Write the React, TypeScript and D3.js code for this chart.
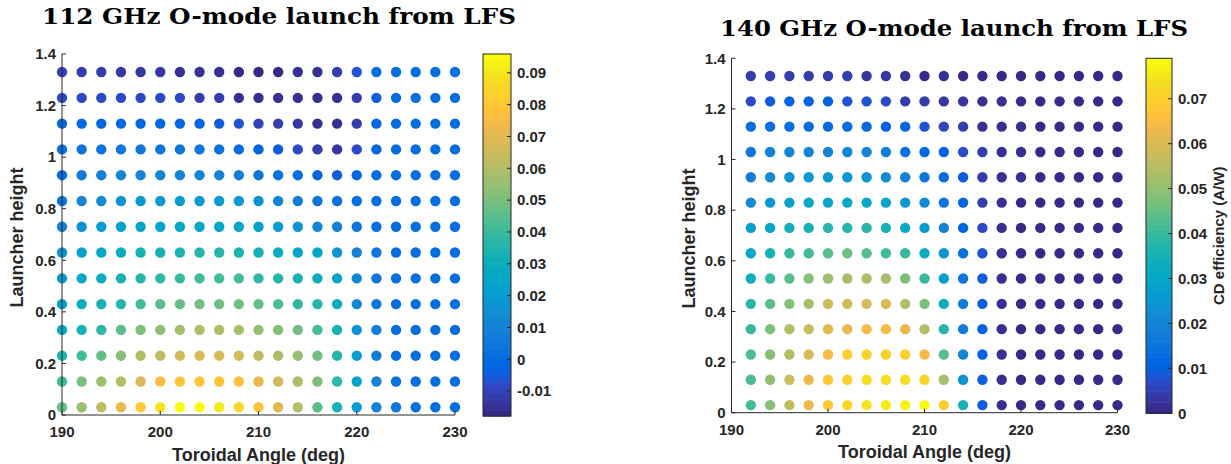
import React from "react";
import * as d3 from "d3";

// ---------- data ----------
const heights = [1.33, 1.23, 1.13, 1.03, 0.93, 0.83, 0.73, 0.63, 0.53, 0.43, 0.33, 0.23, 0.13, 0.03];
const angles112 = [190, 192, 194, 196, 198, 200, 202, 204, 206, 208, 210, 212, 214, 216, 218, 220, 222, 224, 226, 228, 230];
const angles140 = [192, 194, 196, 198, 200, 202, 204, 206, 208, 210, 212, 214, 216, 218, 220, 222, 224, 226, 228, 230];

// CD efficiency (A/W), rows follow `heights`, columns follow angles
const cd112 = [
  [-0.0098, -0.0109, -0.012, -0.0126, -0.0137, -0.0137, -0.0149, -0.016, -0.016, -0.0166, -0.0171, -0.0171, -0.0154, -0.0154, -0.012, -0.0064, 0, 0, 0, 0, 0],
  [-0.0075, -0.0075, -0.0075, -0.0075, -0.0075, -0.008, -0.0086, -0.0109, -0.012, -0.0143, -0.0154, -0.016, -0.0154, -0.0154, -0.0154, -0.012, -0.0041, 0, 0, 0, 0],
  [-0.0018, -0.0007, -0.0007, -0.0007, -0.0007, -0.0018, -0.0018, -0.003, -0.0041, -0.0064, -0.0098, -0.012, -0.0132, -0.0149, -0.016, -0.012, -0.0018, 0, 0, 0, 0],
  [0.0027, 0.005, 0.005, 0.005, 0.005, 0.005, 0.005, 0.0039, 0.0027, 0, -0.0018, -0.0041, -0.0086, -0.012, -0.0132, -0.0075, -0.0007, 0, 0, 0, 0],
  [0.0016, 0.0061, 0.0095, 0.0107, 0.0118, 0.0118, 0.0118, 0.0118, 0.0107, 0.0084, 0.005, 0.0027, 0, -0.003, -0.0041, -0.0007, 0, 0, 0, 0, 0],
  [0.005, 0.0118, 0.0141, 0.0175, 0.0186, 0.0198, 0.0198, 0.0198, 0.0198, 0.0186, 0.0164, 0.0118, 0.0073, 0.0039, 0.0027, 0.0016, 0, 0, 0, 0, 0],
  [0.0095, 0.0164, 0.0198, 0.022, 0.0232, 0.0243, 0.0254, 0.0254, 0.0254, 0.0243, 0.022, 0.0198, 0.0164, 0.0118, 0.0095, 0.005, 0.0016, 0, 0, 0, 0],
  [0.0164, 0.022, 0.0254, 0.0288, 0.0322, 0.0334, 0.0345, 0.0356, 0.0356, 0.0345, 0.0322, 0.03, 0.0266, 0.0232, 0.0175, 0.0095, 0.0039, 0.0016, 0, 0, 0],
  [0.0198, 0.0254, 0.03, 0.0334, 0.0368, 0.039, 0.0402, 0.0425, 0.0425, 0.0413, 0.039, 0.0368, 0.0334, 0.03, 0.0232, 0.0118, 0.005, 0.0016, 0, 0, 0],
  [0.022, 0.0288, 0.0334, 0.0368, 0.0413, 0.0447, 0.047, 0.0493, 0.0493, 0.0493, 0.047, 0.0436, 0.039, 0.0356, 0.0288, 0.0141, 0.005, 0.0016, 0, 0, 0],
  [0.0277, 0.0334, 0.039, 0.0447, 0.0504, 0.0538, 0.0572, 0.0595, 0.0595, 0.0572, 0.055, 0.0527, 0.0481, 0.0425, 0.0334, 0.0164, 0.0073, 0.0016, 0, 0, 0],
  [0.0345, 0.0413, 0.047, 0.0527, 0.0595, 0.0629, 0.0663, 0.0686, 0.0686, 0.0663, 0.0629, 0.0595, 0.0538, 0.0481, 0.0368, 0.0209, 0.0084, 0.0016, 0, 0, 0],
  [0.0413, 0.0504, 0.0561, 0.0618, 0.0686, 0.0765, 0.0799, 0.0799, 0.0788, 0.0776, 0.072, 0.0663, 0.0595, 0.0504, 0.0379, 0.0232, 0.0107, 0.0027, 0.0016, 0, 0],
  [0.047, 0.0561, 0.0629, 0.072, 0.081, 0.0901, 0.0947, 0.0947, 0.0913, 0.0867, 0.0799, 0.0708, 0.0606, 0.0447, 0.0322, 0.0198, 0.0095, 0.0039, 0.0027, 0.0016, 0.0016],
];

const cd140 = [
  [0.0047, 0.004, 0.0047, 0.0047, 0.0047, 0.004, 0.0032, 0.0032, 0.0024, 0.0008, 0.0016, 0.0008, 0.0008, 0.0008, 0.0008, 0.0008, 0.0008, 0.0008, 0.0008, 0.0008],
  [0.0063, 0.0087, 0.0103, 0.0103, 0.0103, 0.0079, 0.0079, 0.0063, 0.0047, 0.004, 0.0032, 0.0032, 0.0016, 0.0016, 0.0008, 0.0008, 0.0008, 0.0008, 0.0008, 0.0008],
  [0.0126, 0.0134, 0.0134, 0.0134, 0.0134, 0.0126, 0.0119, 0.0111, 0.0103, 0.0079, 0.0055, 0.004, 0.0024, 0.0016, 0.0016, 0.0008, 0.0008, 0.0008, 0.0008, 0.0008],
  [0.0158, 0.019, 0.0198, 0.0205, 0.0205, 0.0205, 0.0198, 0.0174, 0.0142, 0.0119, 0.0111, 0.0071, 0.004, 0.0024, 0.0016, 0.0008, 0.0008, 0.0008, 0.0008, 0.0008],
  [0.0174, 0.0213, 0.0237, 0.0253, 0.0261, 0.0253, 0.0245, 0.0221, 0.019, 0.0158, 0.0126, 0.0095, 0.004, 0.0024, 0.0016, 0.0008, 0.0008, 0.0008, 0.0008, 0.0008],
  [0.0221, 0.0253, 0.0284, 0.03, 0.0308, 0.0308, 0.03, 0.0284, 0.0253, 0.0213, 0.0158, 0.0119, 0.0047, 0.0024, 0.0008, 0.0008, 0.0008, 0.0008, 0.0008, 0.0008],
  [0.0269, 0.0308, 0.034, 0.0356, 0.0371, 0.0379, 0.0371, 0.0356, 0.0316, 0.0261, 0.019, 0.0119, 0.0063, 0.0024, 0.0008, 0.0008, 0.0008, 0.0008, 0.0008, 0.0008],
  [0.03, 0.0356, 0.0395, 0.0419, 0.0442, 0.0458, 0.0442, 0.0419, 0.0395, 0.0332, 0.0237, 0.0142, 0.0079, 0.0024, 0.0008, 0.0008, 0.0008, 0.0008, 0.0008, 0.0008],
  [0.0332, 0.0403, 0.0442, 0.049, 0.0514, 0.0529, 0.0537, 0.0521, 0.0474, 0.0395, 0.0277, 0.0158, 0.0087, 0.0024, 0.0008, 0.0008, 0.0008, 0.0008, 0.0008, 0.0008],
  [0.0379, 0.0442, 0.0482, 0.0529, 0.0569, 0.0585, 0.06, 0.0593, 0.0553, 0.0474, 0.0332, 0.0174, 0.0095, 0.0024, 0.0008, 0.0008, 0.0008, 0.0008, 0.0008, 0.0008],
  [0.0395, 0.0474, 0.0537, 0.0577, 0.0608, 0.0624, 0.0648, 0.0648, 0.0624, 0.0553, 0.0379, 0.0182, 0.0103, 0.0024, 0.0008, 0.0008, 0.0008, 0.0008, 0.0008, 0.0008],
  [0.0427, 0.049, 0.0553, 0.06, 0.0648, 0.0695, 0.0711, 0.0711, 0.0695, 0.064, 0.0435, 0.0198, 0.0103, 0.0024, 0.0008, 0.0008, 0.0008, 0.0008, 0.0008, 0.0008],
  [0.0427, 0.0506, 0.0569, 0.0624, 0.0679, 0.0703, 0.0735, 0.0735, 0.0735, 0.0711, 0.0529, 0.0237, 0.0095, 0.0024, 0.0008, 0.0008, 0.0008, 0.0008, 0.0008, 0.0008],
  [0.0419, 0.049, 0.0561, 0.0632, 0.0679, 0.0719, 0.0743, 0.0758, 0.0766, 0.079, 0.0703, 0.0356, 0.0095, 0.0024, 0.0008, 0.0008, 0.0008, 0.0008, 0.0008, 0.0008],
];

const yTicks = [0, 0.2, 0.4, 0.6, 0.8, 1, 1.2, 1.4];
const xTicks = [190, 200, 210, 220, 230];
const cbTicks112 = [-0.01, 0, 0.01, 0.02, 0.03, 0.04, 0.05, 0.06, 0.07, 0.08, 0.09];
const cbTicks140 = [0, 0.01, 0.02, 0.03, 0.04, 0.05, 0.06, 0.07];
const cRange112 = [-0.0178, 0.0959];
const cRange140 = [0, 0.079];

const parula: number[][] = [
  [0.2081, 0.1663, 0.5292], [0.2116, 0.1898, 0.5777], [0.2123, 0.2138, 0.627], [0.2081, 0.2386, 0.6771],
  [0.1959, 0.2645, 0.7279], [0.1707, 0.2919, 0.7792], [0.1253, 0.3242, 0.8303], [0.0591, 0.3598, 0.8683],
  [0.0117, 0.3875, 0.882], [0.006, 0.4086, 0.8828], [0.0165, 0.4266, 0.8786], [0.0329, 0.443, 0.872],
  [0.0498, 0.4586, 0.8641], [0.0629, 0.4737, 0.8554], [0.0723, 0.4887, 0.8467], [0.0779, 0.504, 0.8384],
  [0.0793, 0.52, 0.8312], [0.0749, 0.5375, 0.8263], [0.0641, 0.557, 0.824], [0.0488, 0.5772, 0.8228],
  [0.0343, 0.5966, 0.8199], [0.0265, 0.6137, 0.8135], [0.0239, 0.6287, 0.8038], [0.0231, 0.6418, 0.7913],
  [0.0228, 0.6535, 0.7768], [0.0267, 0.6642, 0.7607], [0.0384, 0.6743, 0.7436], [0.059, 0.6838, 0.7254],
  [0.0843, 0.6928, 0.7062], [0.1133, 0.7015, 0.6859], [0.1453, 0.7098, 0.6646], [0.1801, 0.7177, 0.6424],
  [0.2178, 0.725, 0.6193], [0.2586, 0.7317, 0.5954], [0.3022, 0.7376, 0.5712], [0.3482, 0.7424, 0.5473],
  [0.3953, 0.7459, 0.5244], [0.442, 0.7481, 0.5033], [0.4871, 0.7491, 0.484], [0.53, 0.7491, 0.4661],
  [0.5709, 0.7485, 0.4494], [0.6099, 0.7473, 0.4337], [0.6473, 0.7456, 0.4188], [0.6834, 0.7435, 0.4044],
  [0.7184, 0.7411, 0.3905], [0.7525, 0.7384, 0.3768], [0.7858, 0.7356, 0.3633], [0.8185, 0.7327, 0.3498],
  [0.8507, 0.7299, 0.336], [0.8824, 0.7274, 0.3217], [0.9139, 0.7258, 0.3063], [0.945, 0.7261, 0.2886],
  [0.9739, 0.7314, 0.2666], [0.9938, 0.7455, 0.2403], [0.999, 0.7653, 0.2164], [0.9955, 0.7861, 0.1967],
  [0.988, 0.8066, 0.1794], [0.9789, 0.8271, 0.1633], [0.9697, 0.8481, 0.1475], [0.9626, 0.8705, 0.1309],
  [0.9589, 0.8949, 0.1132], [0.9598, 0.9218, 0.0948], [0.9661, 0.9514, 0.0755], [0.9763, 0.9831, 0.0538],
];

const rgb = (c: number[]) => d3.rgb(c[0] * 255, c[1] * 255, c[2] * 255).formatHex();
const AX = "#262626";
const SANS = "'Liberation Sans', Arial, Helvetica, sans-serif";

type PanelProps = {
  title: string;
  titleX: number; titleY: number; titleLen: number;
  angles: number[]; values: number[][]; cRange: number[]; cbTicks: number[];
  px0: number; px1: number; pyBottom: number; pyTop: number;
  cbX: number; cbW: number; cbTop: number; cbBottom: number;
  ylabX: number; xlabY: number; cbLabel?: string; cbLabelX?: number;
};

function Panel(p: PanelProps) {
  const x = d3.scaleLinear().domain([190, 230]).range([p.px0, p.px1]);
  const y = d3.scaleLinear().domain([0, 1.4]).range([p.pyBottom, p.pyTop]);
  const cb = d3.scaleLinear().domain(p.cRange).range([p.cbBottom, p.cbTop]);
  const n = parula.length;
  const idx = d3.scaleQuantize<number>().domain(p.cRange as [number, number]).range(d3.range(n));
  const color = (v: number) => rgb(parula[idx(v)]);
  const step = (p.cRange[1] - p.cRange[0]) / n;
  return (
    <g>
      <text x={p.titleX} y={p.titleY} fontFamily="'DejaVu Serif', serif" fontWeight="bold" fontSize={23}
        textLength={p.titleLen} lengthAdjust="spacingAndGlyphs" fill="#000">{p.title}</text>
      {/* dots */}
      {heights.map((h, r) =>
        p.angles.map((a, c) => (
          <circle key={`${r}-${c}`} cx={x(a)} cy={y(h)} r={5.2} fill={color(p.values[r][c])} />
        ))
      )}
      {/* axes */}
      <line x1={p.px0} x2={p.px0} y1={p.pyTop} y2={p.pyBottom} stroke={AX} strokeWidth={1} />
      <line x1={p.px0} x2={p.px1} y1={p.pyBottom} y2={p.pyBottom} stroke={AX} strokeWidth={1} />
      {yTicks.map((t) => (
        <g key={`y${t}`}>
          <line x1={p.px0} x2={p.px0 + 4} y1={y(t)} y2={y(t)} stroke={AX} />
          <text x={p.px0 - 6} y={y(t)} dy="0.35em" textAnchor="end" fontFamily={SANS} fontWeight="bold" fontSize={15} fill={AX}>{String(t)}</text>
        </g>
      ))}
      {xTicks.map((t) => (
        <g key={`x${t}`}>
          <line x1={x(t)} x2={x(t)} y1={p.pyBottom} y2={p.pyBottom - 4} stroke={AX} />
          <text x={x(t)} y={p.pyBottom + 22} textAnchor="middle" fontFamily={SANS} fontWeight="bold" fontSize={15} fill={AX}>{String(t)}</text>
        </g>
      ))}
      <text transform={`translate(${p.ylabX},${(p.pyTop + p.pyBottom) / 2 + 3}) rotate(-90)`} textAnchor="middle"
        fontFamily={SANS} fontWeight="bold" fontSize={18} fill={AX}>Launcher height</text>
      <text x={(p.px0 + p.px1) / 2} y={p.xlabY} textAnchor="middle" fontFamily={SANS} fontWeight="bold" fontSize={18} fill={AX}>Toroidal Angle (deg)</text>
      {/* colorbar */}
      {d3.range(n).map((i) => (
        <rect key={`cb${i}`} x={p.cbX} width={p.cbW} y={cb(p.cRange[0] + (i + 1) * step)}
          height={cb(p.cRange[0] + i * step) - cb(p.cRange[0] + (i + 1) * step) + 0.6} fill={rgb(parula[i])} />
      ))}
      <rect x={p.cbX} y={p.cbTop} width={p.cbW} height={p.cbBottom - p.cbTop} fill="none" stroke={AX} strokeWidth={1} />
      {p.cbTicks.map((t) => (
        <g key={`c${t}`}>
          <line x1={p.cbX + p.cbW - 4} x2={p.cbX + p.cbW} y1={cb(t)} y2={cb(t)} stroke={AX} />
          <text x={p.cbX + p.cbW + 6} y={cb(t)} dy="0.35em" fontFamily={SANS} fontWeight="bold" fontSize={15} fill={AX}>{String(t)}</text>
        </g>
      ))}
      {p.cbLabel && (
        <text transform={`translate(${p.cbLabelX},${(p.cbTop + p.cbBottom) / 2}) rotate(-90)`} textAnchor="middle"
          fontFamily={SANS} fontWeight="bold" fontSize={15} fill={AX}>{p.cbLabel}</text>
      )}
    </g>
  );
}

export default function App() {
  return (
    <svg width={1231} height={464} style={{ position: "absolute", left: 0, top: 0, background: "#fff" }}>
      <rect width={1231} height={464} fill="#fff" />
      <Panel title="112 GHz O-mode launch from LFS" titleX={42} titleY={24} titleLen={474}
        angles={angles112} values={cd112} cRange={cRange112} cbTicks={cbTicks112}
        px0={62} px1={455} pyBottom={415} pyTop={54}
        cbX={483} cbW={28} cbTop={54} cbBottom={416}
        ylabX={23} xlabY={461} />
      <Panel title="140 GHz O-mode launch from LFS" titleX={720} titleY={36} titleLen={468}
        angles={angles140} values={cd140} cRange={cRange140} cbTicks={cbTicks140}
        px0={731.5} px1={1117.5} pyBottom={412.7} pyTop={58.3}
        cbX={1146} cbW={26} cbTop={58.3} cbBottom={413.3}
        ylabX={695} xlabY={458} cbLabel="CD efficiency (A/W)" cbLabelX={1224} />
    </svg>
  );
}
